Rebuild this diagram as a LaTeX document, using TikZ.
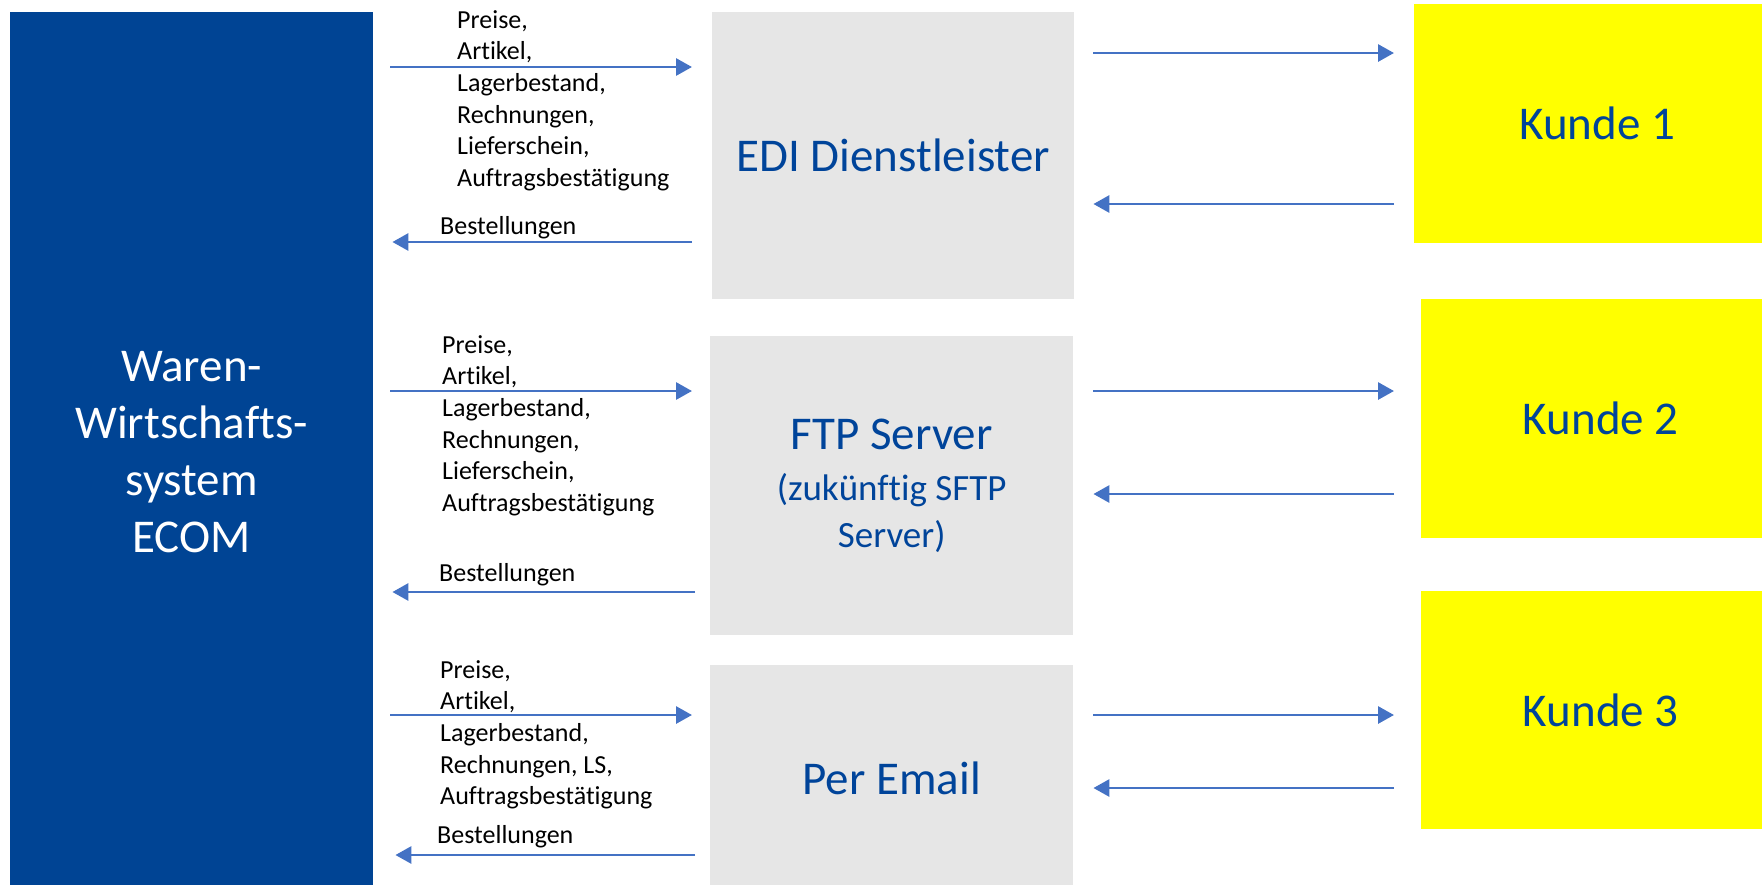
\documentclass[tikz,border=0pt]{standalone}
\usepackage{fontspec}
\setmainfont{Carlito}[Ligatures=NoCommon]
\usetikzlibrary{arrows.meta}
\definecolor{ecomblau}{HTML}{004494}
\definecolor{textblau}{HTML}{00449A}
\definecolor{pfeilblau}{HTML}{4472C4}
\definecolor{kastengrau}{HTML}{E6E6E6}
\definecolor{kundengelb}{HTML}{FFFF00}
\begin{document}
\begin{tikzpicture}[x=1pt,y=-1pt,
    kasten/.style={anchor=north west, inner sep=0pt, align=center},
    gross/.style={font=\fontsize{47}{57}\selectfont},
    liste/.style={anchor=north west, inner sep=0pt, align=left, font=\fontsize{26}{31.7}\selectfont},
    einzeln/.style={anchor=base west, inner sep=0pt, font=\fontsize{26}{31.7}\selectfont},
    fluss/.style={pfeilblau, line width=2.9pt, -{Triangle[length=16pt,width=17pt]}}]
    \useasboundingbox (0,0) rectangle (1762,884);
    \clip (0,0) rectangle (1762,884);

    % Warenwirtschaftssystem
    \node[kasten, gross, fill=ecomblau, text=white, minimum width=363pt, minimum height=880pt] (ecom) at (10,12) {Waren-\\Wirtschafts-\\system\\ECOM};

    % Wege zum Kunden
    \node[kasten, gross, fill=kastengrau, text=textblau, minimum width=362pt, minimum height=287pt] (edi) at (712,12) {EDI Dienstleister};
    \node[kasten, fill=kastengrau, text=textblau, minimum width=363pt, minimum height=299pt, font=\fontsize{37}{47}\selectfont] (ftp) at (710,336) {{\fontsize{47}{57}\selectfont FTP Server}\\[4pt](zukünftig SFTP\\Server)};
    \node[kasten, gross, fill=kastengrau, text=textblau, minimum width=363pt, minimum height=226pt] (mail) at (710,665) {Per Email};

    % Kunden
    \node[kasten, gross, fill=kundengelb, text=textblau, minimum width=366pt, minimum height=239pt] (kunde1) at (1414,4) {Kunde 1};
    \node[kasten, gross, fill=kundengelb, text=textblau, minimum width=359pt, minimum height=239pt] (kunde2) at (1421,299) {Kunde 2};
    \node[kasten, gross, fill=kundengelb, text=textblau, minimum width=359pt, minimum height=238pt] (kunde3) at (1421,591) {Kunde 3};

    % Daten
    \node[liste] (daten1) at (457,10) {Preise,\\Artikel,\\Lagerbestand,\\Rechnungen,\\Lieferschein,\\Auftragsbestätigung};
    \node[einzeln] (best1) at (440,234) {Bestellungen};
    \node[liste] (daten2) at (442,335) {Preise,\\Artikel,\\Lagerbestand,\\Rechnungen,\\Lieferschein,\\Auftragsbestätigung};
    \node[einzeln] (best2) at (439,581) {Bestellungen};
    \node[liste] (daten3) at (440,660) {Preise,\\Artikel,\\Lagerbestand,\\Rechnungen, LS,\\Auftragsbestätigung};
    \node[einzeln] (best3) at (437,843) {Bestellungen};

    % Pfeile ECOM <-> Dienstleister
    \draw[fluss, shorten <=17pt, shorten >=20pt] (ecom.east |- 0,67) -- (edi.west |- 0,67);
    \draw[fluss, shorten <=20pt, shorten >=19pt] (edi.west |- 0,242) -- (ecom.east |- 0,242);
    \draw[fluss, shorten <=17pt, shorten >=18pt] (ecom.east |- 0,391) -- (ftp.west |- 0,391);
    \draw[fluss, shorten <=15pt, shorten >=19pt] (ftp.west |- 0,592) -- (ecom.east |- 0,592);
    \draw[fluss, shorten <=17pt, shorten >=18pt] (ecom.east |- 0,715) -- (mail.west |- 0,715);
    \draw[fluss, shorten <=15pt, shorten >=22pt] (mail.west |- 0,855) -- (ecom.east |- 0,855);

    % Pfeile Dienstleister <-> Kunden
    \draw[fluss, shorten <=19pt, shorten >=20pt] (edi.east |- 0,53) -- (kunde1.west |- 0,53);
    \draw[fluss, shorten <=20pt, shorten >=19pt] (kunde1.west |- 0,204) -- (edi.east |- 0,204);
    \draw[fluss, shorten <=20pt, shorten >=27pt] (ftp.east |- 0,391) -- (kunde2.west |- 0,391);
    \draw[fluss, shorten <=27pt, shorten >=20pt] (kunde2.west |- 0,494) -- (ftp.east |- 0,494);
    \draw[fluss, shorten <=20pt, shorten >=27pt] (mail.east |- 0,715) -- (kunde3.west |- 0,715);
    \draw[fluss, shorten <=27pt, shorten >=20pt] (kunde3.west |- 0,788) -- (mail.east |- 0,788);
\end{tikzpicture}
\end{document}
